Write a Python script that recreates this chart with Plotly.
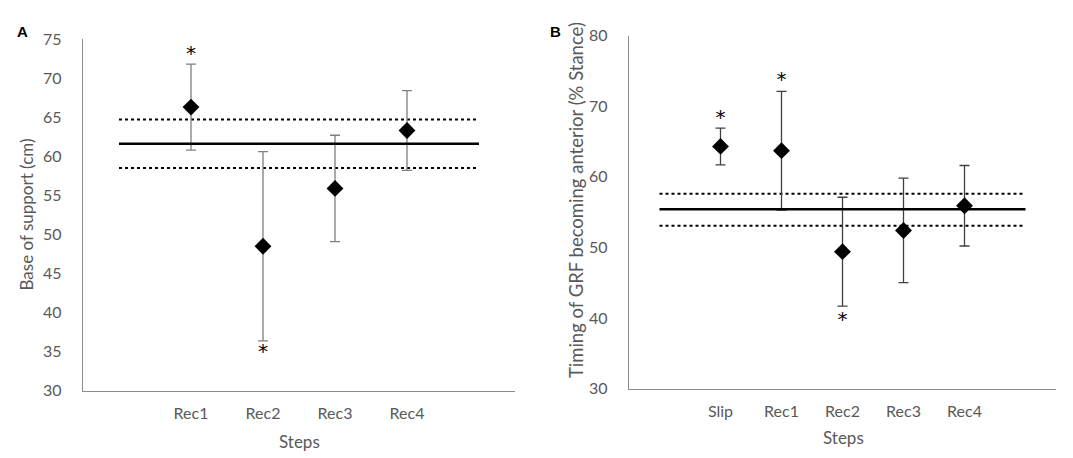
import plotly.graph_objects as go

W, H = 1073, 458

# panel A: base of support
a_steps = ["Rec1", "Rec2", "Rec3", "Rec4"]
a_pos = [1, 2, 3, 4]
a_mean = [66.3, 48.5, 55.9, 63.3]
a_err = [5.5, 12.1, 6.8, 5.1]
a_ref_mean = 61.6
a_ref_hi = 64.7
a_ref_lo = 58.5
a_star_x = [1, 2]
a_star_y = [73.0, 34.9]

# panel B: timing of GRF becoming anterior
b_steps = ["Slip", "Rec1", "Rec2", "Rec3", "Rec4"]
b_pos = [1, 2, 3, 4, 5]
b_mean = [64.3, 63.7, 49.4, 52.4, 55.9]
b_err = [2.6, 8.4, 7.7, 7.4, 5.7]
b_ref_mean = 55.4
b_ref_hi = 57.6
b_ref_lo = 53.05
b_star_x = [1, 2, 3]
b_star_y = [68.2, 73.5, 39.6]

FONT = "Lato"
GREY = "#595959"
AXIS = "#8c8c8c"

fig = go.Figure()


def add_panel(fig, xa, ya, pos, mean, err, ref, hi, lo, star_x, star_y, xend, ecol):
    xs = [0, xend]
    fig.add_trace(go.Scatter(x=xs, y=[hi, hi], mode="lines", xaxis=xa, yaxis=ya,
                             line=dict(color="black", width=2, dash="dot")))
    fig.add_trace(go.Scatter(x=xs, y=[lo, lo], mode="lines", xaxis=xa, yaxis=ya,
                             line=dict(color="black", width=2, dash="dot")))
    fig.add_trace(go.Scatter(x=pos, y=mean, mode="markers", xaxis=xa, yaxis=ya,
                             marker=dict(symbol="diamond", size=13, color="black"),
                             error_y=dict(type="data", array=err, visible=True,
                                          color=ecol, thickness=1.3, width=5)))
    fig.add_trace(go.Scatter(x=xs, y=[ref, ref], mode="lines", xaxis=xa, yaxis=ya,
                             line=dict(color="black", width=2.5)))
    fig.add_trace(go.Scatter(x=star_x, y=star_y, mode="text", text=["*"] * len(star_x),
                             xaxis=xa, yaxis=ya,
                             textfont=dict(family="DejaVu Sans", size=20, color="black")))


add_panel(fig, "x", "y", a_pos, a_mean, a_err, a_ref_mean, a_ref_hi, a_ref_lo,
          a_star_x, a_star_y, 5, "#7f7f7f")
add_panel(fig, "x2", "y2", b_pos, b_mean, b_err, b_ref_mean, b_ref_hi, b_ref_lo,
          b_star_x, b_star_y, 6, "#404040")

axis_common = dict(showline=True, linecolor=AXIS, linewidth=1.3, showgrid=False,
                   zeroline=False, ticks="", tickfont=dict(family=FONT, size=16, color=GREY))

fig.update_layout(
    width=W, height=H,
    margin=dict(l=0, r=0, t=0, b=0),
    plot_bgcolor="white", paper_bgcolor="white",
    showlegend=False,
    xaxis=dict(domain=[75 / W, 507 / W], range=[-0.5, 5.5], tickvals=a_pos,
               ticktext=a_steps, anchor="y", ticklabelstandoff=8, **axis_common),
    yaxis=dict(domain=[1 - 389 / H, 1 - 22 / H], range=[30, 75], dtick=5,
               anchor="x", ticklabelstandoff=17, **axis_common),
    xaxis2=dict(domain=[621 / W, 1048 / W], range=[-0.5, 6.5], tickvals=b_pos,
                ticktext=b_steps, anchor="y2", ticklabelstandoff=8, **axis_common),
    yaxis2=dict(domain=[1 - 386.7 / H, 1 - 18.3 / H], range=[30, 80], dtick=10,
                anchor="x2", ticklabelstandoff=17, **axis_common),
)


def label(text, x, y, size, angle=0, color=GREY, family=FONT):
    fig.add_annotation(text=text, x=x / W, y=1 - y / H, xref="paper", yref="paper",
                       xanchor="center", yanchor="middle", showarrow=False,
                       textangle=angle, font=dict(family=family, size=size, color=color))


label("Steps", 291, 442, 17)
label("Steps", 835, 438, 17)
label("Base of support (cm)", 18, 205, 17, -90)
label("Timing of GRF becoming anterior (% Stance)", 568, 190, 18.5, -90)
label("<b>A</b>", 14, 14, 15, color="black", family="Liberation Sans")
label("<b>B</b>", 547, 14, 15, color="black", family="Liberation Sans")

fig.write_html("out.html")
